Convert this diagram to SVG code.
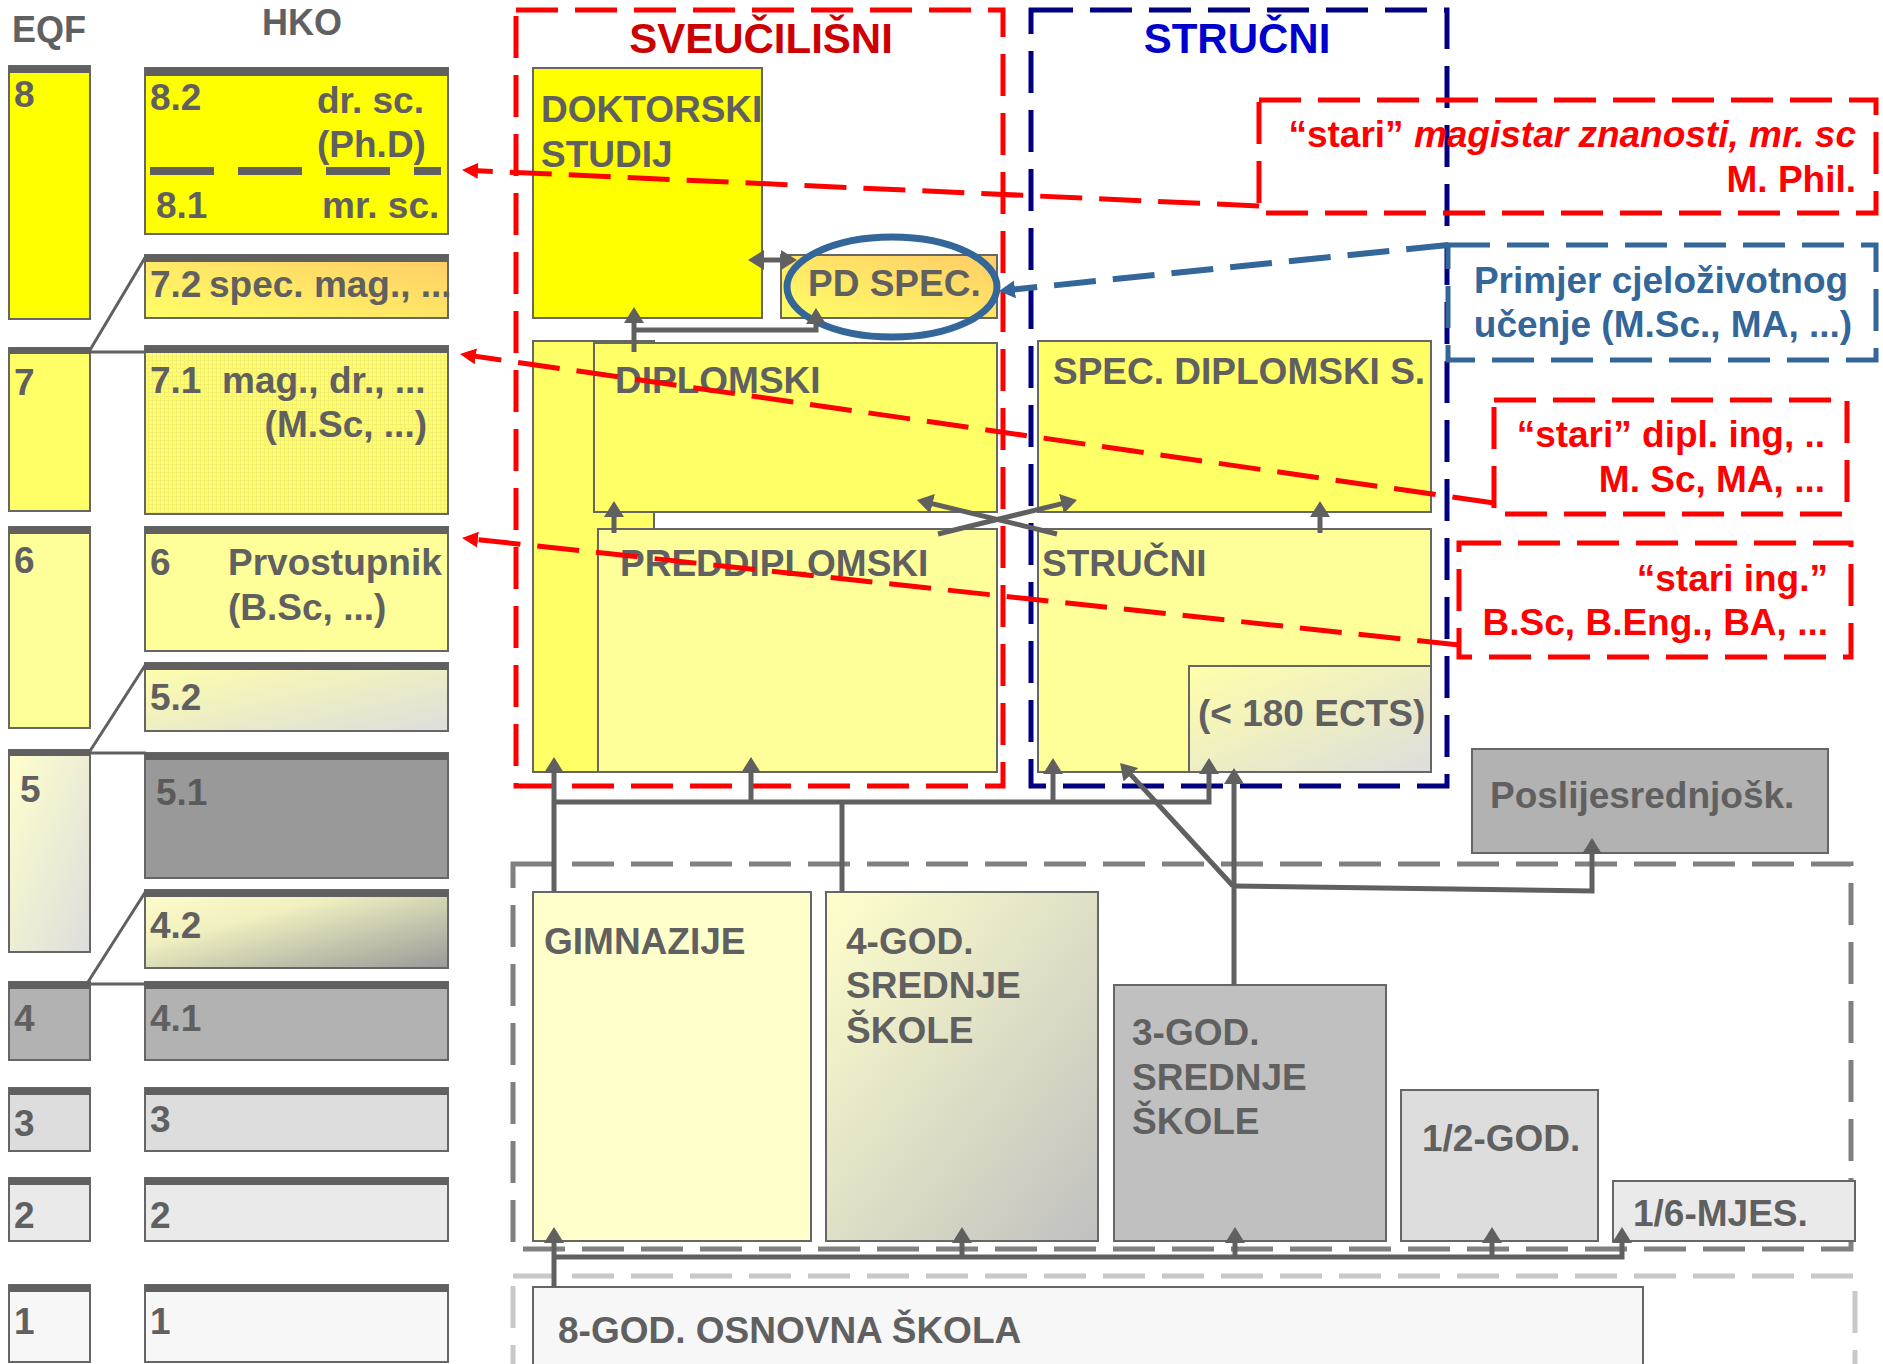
<svg xmlns="http://www.w3.org/2000/svg" width="1883" height="1364" viewBox="0 0 1883 1364">
<defs>
<linearGradient id="gOrange" x1="0" y1="1" x2="1" y2="0"><stop offset="0" stop-color="#ffff66"/><stop offset="1" stop-color="#ffcc66"/></linearGradient>
<linearGradient id="gYG" x1="0" y1="0" x2="1" y2="1"><stop offset="0" stop-color="#ffffaa"/><stop offset="1" stop-color="#dddddd"/></linearGradient>
<linearGradient id="gYG5" x1="0" y1="0" x2="1" y2="1"><stop offset="0" stop-color="#ffffcc"/><stop offset="1" stop-color="#dddddd"/></linearGradient>
<linearGradient id="g42" x1="0" y1="0" x2="1" y2="1"><stop offset="0" stop-color="#ffffcc"/><stop offset="0.35" stop-color="#f0f0c0"/><stop offset="1" stop-color="#999999"/></linearGradient>
<linearGradient id="g4god" x1="0" y1="0" x2="1" y2="1"><stop offset="0" stop-color="#ffffcc"/><stop offset="1" stop-color="#c0c0c0"/></linearGradient>
<pattern id="grid" width="4" height="4" patternUnits="userSpaceOnUse"><rect width="4" height="4" fill="#ffff66"/><path d="M0,0.5H4M0.5,0V4" stroke="#f4ef70" stroke-width="1"/></pattern>
<marker id="ah" viewBox="0 0 16 20" refX="10" refY="10" markerWidth="16" markerHeight="20" markerUnits="userSpaceOnUse" orient="auto-start-reverse"><path d="M0,0 L16,10 L0,20 z" fill="#606060"/></marker>
<marker id="ahr" viewBox="0 0 16 16" refX="10" refY="8" markerWidth="16" markerHeight="16" markerUnits="userSpaceOnUse" orient="auto"><path d="M0,0 L16,8 L0,16 z" fill="#ff0000"/></marker>
<marker id="ahb" viewBox="0 0 16 18" refX="10" refY="9" markerWidth="16" markerHeight="18" markerUnits="userSpaceOnUse" orient="auto"><path d="M0,0 L16,9 L0,18 z" fill="#336699"/></marker>
</defs>
<style>
.t{font-family:"Liberation Sans",Arial,Helvetica,sans-serif;font-weight:bold;font-size:37px;fill:#606060}
.box{stroke:#666666;stroke-width:2}
.bar{fill:#606060}
.thin{stroke:#606060;stroke-width:3;fill:none}
.conn{stroke:#606060;stroke-width:5;fill:none}
.arr{marker-end:url(#ah)}
.red{stroke:#ff0000;stroke-width:5;stroke-dasharray:42 17;fill:none}
.blue{stroke:#336699;stroke-width:5;stroke-dasharray:42 17;fill:none}
.navy{stroke:#000080;stroke-width:5;stroke-dasharray:42 17;fill:none}
.gray{stroke:#808080;stroke-width:5;stroke-dasharray:42 17;fill:none}
.lgray{stroke:#c8c8c8;stroke-width:5;stroke-dasharray:42 17;fill:none}
.rt{fill:#ff0000}
.bt{fill:#336699}
</style>
<rect width="1883" height="1364" fill="#ffffff"/>

<text class="t" x="12" y="42" style="font-size:36px">EQF</text>
<text class="t" x="262" y="35" style="font-size:36px">HKO</text>

<!-- EQF column -->
<g id="eqf8"><rect class="box" x="9" y="66" width="81" height="253" fill="#ffff00"/><rect class="bar" x="9" y="66" width="81" height="7"/><text class="t" x="14" y="107">8</text></g>
<g id="eqf7"><rect class="box" x="9" y="348" width="81" height="163" fill="#ffff66"/><rect class="bar" x="9" y="348" width="81" height="6"/><text class="t" x="14" y="395">7</text></g>
<g id="eqf6"><rect class="box" x="9" y="527" width="81" height="201" fill="#ffff99"/><rect class="bar" x="9" y="527" width="81" height="7"/><text class="t" x="14" y="573">6</text></g>
<g id="eqf5"><rect class="box" x="9" y="750" width="81" height="202" fill="url(#gYG5)"/><rect class="bar" x="9" y="750" width="81" height="6"/><text class="t" x="20" y="802">5</text></g>
<g id="eqf4"><rect class="box" x="9" y="982" width="81" height="78" fill="#b2b2b2"/><rect class="bar" x="9" y="982" width="81" height="7"/><text class="t" x="14" y="1031">4</text></g>
<g id="eqf3"><rect class="box" x="9" y="1088" width="81" height="63" fill="#dddddd"/><rect class="bar" x="9" y="1088" width="81" height="7"/><text class="t" x="14" y="1136">3</text></g>
<g id="eqf2"><rect class="box" x="9" y="1178" width="81" height="63" fill="#eaeaea"/><rect class="bar" x="9" y="1178" width="81" height="7"/><text class="t" x="14" y="1228">2</text></g>
<g id="eqf1"><rect class="box" x="9" y="1285" width="81" height="77" fill="#f7f7f7"/><rect class="bar" x="9" y="1285" width="81" height="7"/><text class="t" x="14" y="1334">1</text></g>

<!-- HKO column -->
<g id="hko8"><rect class="box" x="145" y="68" width="303" height="166" fill="#ffff00"/><rect class="bar" x="145" y="68" width="303" height="8"/>
<text class="t" x="150" y="110">8.2</text><text class="t" x="317" y="113">dr. sc.</text><text class="t" x="317" y="157">(Ph.D)</text>
<line x1="150" y1="171" x2="441" y2="171" stroke="#606060" stroke-width="8" stroke-dasharray="64 24"/>
<text class="t" x="156" y="218">8.1</text><text class="t" x="322" y="218">mr. sc.</text></g>
<g id="hko72"><rect class="box" x="145" y="255" width="303" height="63" fill="url(#gOrange)"/><rect class="bar" x="145" y="255" width="303" height="7"/>
<text class="t" x="150" y="297">7.2</text><text class="t" x="209" y="297">spec. mag., ...</text></g>
<g id="hko71"><rect class="box" x="145" y="346" width="303" height="168" fill="url(#grid)"/><rect class="bar" x="145" y="346" width="303" height="7"/>
<text class="t" x="150" y="393">7.1</text><text class="t" x="222" y="393">mag., dr., ...</text><text class="t" x="427" y="437" text-anchor="end">(M.Sc, ...)</text></g>
<g id="hko6"><rect class="box" x="145" y="527" width="303" height="124" fill="#ffff99"/><rect class="bar" x="145" y="527" width="303" height="7"/>
<text class="t" x="150" y="575">6</text><text class="t" x="228" y="575">Prvostupnik</text><text class="t" x="228" y="620">(B.Sc, ...)</text></g>
<g id="hko52"><rect class="box" x="145" y="663" width="303" height="68" fill="url(#gYG)"/><rect class="bar" x="145" y="663" width="303" height="7"/><text class="t" x="150" y="710">5.2</text></g>
<g id="hko51"><rect class="box" x="145" y="753" width="303" height="125" fill="#999999"/><rect class="bar" x="145" y="753" width="303" height="7"/><text class="t" x="156" y="805" style="fill:#5a5a5a">5.1</text></g>
<g id="hko42"><rect class="box" x="145" y="890" width="303" height="78" fill="url(#g42)"/><rect class="bar" x="145" y="890" width="303" height="7"/><text class="t" x="150" y="938">4.2</text></g>
<g id="hko41"><rect class="box" x="145" y="982" width="303" height="78" fill="#b2b2b2"/><rect class="bar" x="145" y="982" width="303" height="7"/><text class="t" x="150" y="1031">4.1</text></g>
<g id="hko3"><rect class="box" x="145" y="1088" width="303" height="63" fill="#dddddd"/><rect class="bar" x="145" y="1088" width="303" height="7"/><text class="t" x="150" y="1132">3</text></g>
<g id="hko2"><rect class="box" x="145" y="1178" width="303" height="63" fill="#eaeaea"/><rect class="bar" x="145" y="1178" width="303" height="7"/><text class="t" x="150" y="1228">2</text></g>
<g id="hko1"><rect class="box" x="145" y="1285" width="303" height="77" fill="#f7f7f7"/><rect class="bar" x="145" y="1285" width="303" height="7"/><text class="t" x="150" y="1334">1</text></g>

<!-- containers -->
<g id="sveucilisni"><rect class="red" x="516" y="10" width="487" height="776"/>
<text x="761" y="53" text-anchor="middle" style="font-family:'Liberation Sans',Arial,sans-serif;font-weight:bold;font-size:42px;fill:#cc0000">SVEUČILIŠNI</text></g>
<g id="strucni-c"><rect class="navy" x="1031" y="10" width="416" height="776"/>
<text x="1237" y="53" text-anchor="middle" style="font-family:'Liberation Sans',Arial,sans-serif;font-weight:bold;font-size:42px;fill:#0000cc">STRUČNI</text></g>
<g id="srednje-c"><rect class="gray" x="513" y="864" width="1338" height="385"/></g>
<g id="osnovna-c"><rect class="lgray" x="513" y="1276" width="1342" height="100"/></g>

<!-- university nodes -->
<g id="doktorski"><rect class="box" x="533" y="68" width="229" height="250" fill="#ffff00"/><text class="t" x="541" y="122">DOKTORSKI</text><text class="t" x="541" y="167">STUDIJ</text></g>
<g id="pdspec"><rect class="box" x="781" y="255" width="216" height="63" fill="url(#gOrange)"/><text class="t" x="808" y="296">PD SPEC.</text>
<ellipse cx="892" cy="287" rx="105" ry="50" fill="none" stroke="#336699" stroke-width="7"/></g>
<g id="sveuc-back"><rect class="box" x="533" y="341" width="121" height="431" fill="#ffff66"/></g>
<g id="diplomski"><rect class="box" x="594" y="343" width="403" height="169" fill="#ffff66"/><text class="t" x="615" y="393">DIPLOMSKI</text></g>
<g id="preddiplomski"><rect class="box" x="598" y="529" width="399" height="243" fill="#ffff99"/><text class="t" x="620" y="576">PREDDIPLOMSKI</text></g>
<g id="specdipl"><rect class="box" x="1038" y="341" width="393" height="171" fill="#ffff66"/><text class="t" x="1053" y="384">SPEC. DIPLOMSKI S.</text></g>
<g id="strucni"><rect class="box" x="1038" y="529" width="393" height="243" fill="#ffff99"/><text class="t" x="1042" y="576">STRUČNI</text></g>
<g id="ects"><rect class="box" x="1189" y="666" width="242" height="106" fill="url(#gYG)"/><text class="t" x="1198" y="726">(&lt; 180 ECTS)</text></g>

<!-- secondary -->
<g id="poslije"><rect class="box" x="1472" y="749" width="356" height="104" fill="#b2b2b2"/><text class="t" x="1490" y="808">Poslijesrednjošk.</text></g>
<g id="gimnazije"><rect class="box" x="533" y="892" width="278" height="349" fill="#ffffcc"/><text class="t" x="544" y="954">GIMNAZIJE</text></g>
<g id="god4"><rect class="box" x="826" y="892" width="272" height="349" fill="url(#g4god)"/><text class="t" x="846" y="954">4-GOD.</text><text class="t" x="846" y="998">SREDNJE</text><text class="t" x="846" y="1043">ŠKOLE</text></g>
<g id="god3"><rect class="box" x="1114" y="985" width="272" height="256" fill="#c0c0c0"/><text class="t" x="1132" y="1045">3-GOD.</text><text class="t" x="1132" y="1090">SREDNJE</text><text class="t" x="1132" y="1134">ŠKOLE</text></g>
<g id="god12"><rect class="box" x="1401" y="1090" width="197" height="151" fill="#dddddd"/><text class="t" x="1422" y="1151">1/2-GOD.</text></g>
<g id="mjes16"><rect class="box" x="1613" y="1181" width="242" height="60" fill="#eaeaea"/><text class="t" x="1633" y="1226">1/6-MJES.</text></g>
<g id="osnovna"><rect class="box" x="533" y="1287" width="1110" height="80" fill="#f7f7f7"/><text class="t" x="558" y="1343">8-GOD. OSNOVNA ŠKOLA</text></g>

<!-- callouts -->
<g id="c-magistar"><rect class="red" x="1259" y="100" width="617" height="113"/>
<text class="t rt" x="1856" y="147" text-anchor="end">“stari” <tspan font-style="italic">magistar znanosti, mr. sc</tspan></text>
<text class="t rt" x="1856" y="192" text-anchor="end">M. Phil.</text></g>
<g id="c-primjer"><rect class="blue" x="1448" y="245" width="428" height="115"/>
<text class="t bt" x="1661" y="293" text-anchor="middle">Primjer cjeloživotnog</text>
<text class="t bt" x="1663" y="337" text-anchor="middle">učenje (M.Sc., MA, ...)</text></g>
<g id="c-dipl"><rect class="red" x="1494" y="400" width="353" height="114"/>
<text class="t rt" x="1825" y="447" text-anchor="end">“stari” dipl. ing, ..</text>
<text class="t rt" x="1825" y="492" text-anchor="end">M. Sc, MA, ...</text></g>
<g id="c-ing"><rect class="red" x="1459" y="543" width="392" height="114"/>
<text class="t rt" x="1828" y="591" text-anchor="end">“stari ing.”</text>
<text class="t rt" x="1828" y="635" text-anchor="end">B.Sc, B.Eng., BA, ...</text></g>

<!-- connectors -->
<g id="connectors">
<path class="thin" d="M90,350 L146,256 M90,352 H146 M90,751 L146,664 M90,753 H146 M88,982 L146,891 M90,984 H146"/>
<path class="conn arr" d="M634,352 V313"/>
<path class="conn arr" d="M634,330 H816 V314"/>
<path class="conn" d="M754,260 H791" marker-start="url(#ah)" marker-end="url(#ah)"/>
<path class="conn arr" d="M614,533 V507"/>
<path class="conn arr" d="M938,534 L1071.2,501.4"/>
<path class="conn arr" d="M1057,534 L922.8,501.4"/>
<path class="conn arr" d="M1320,533 V507"/>
<path class="conn arr" d="M554,892 V763"/>
<path class="conn arr" d="M554,802 H1209 V764"/>
<path class="conn arr" d="M751,802 V763"/>
<path class="conn" d="M842,892 V802"/>
<path class="conn arr" d="M1053,802 V764"/>
<path class="conn arr" d="M1233,886 L1124.1,767.4"/>
<path class="conn arr" d="M1234,985 V774"/>
<path class="conn arr" d="M1234,886 L1592,891 V844"/>
<path class="conn arr" d="M554,1287 V1233"/>
<path class="conn arr" d="M554,1257 H1622 V1233"/>
<path class="conn arr" d="M962,1257 V1233"/>
<path class="conn arr" d="M1235,1257 V1233"/>
<path class="conn arr" d="M1492,1257 V1233"/>
<path class="red" d="M1259,206 L468,170.3" marker-end="url(#ahr)"/>
<path class="red" d="M1494,503 L465.9,354.9" marker-end="url(#ahr)"/>
<path class="red" d="M1459,645 L468,538.6" marker-end="url(#ahr)"/>
<path class="blue" d="M1448,245 L1005,290.4" marker-end="url(#ahb)" style="stroke-width:6"/>
</g>
</svg>
